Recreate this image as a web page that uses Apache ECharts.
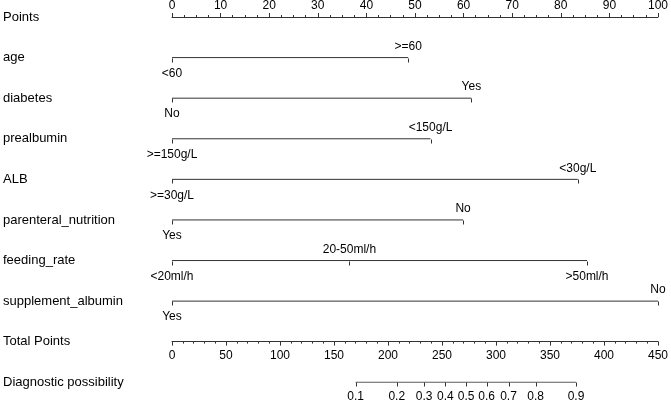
<!DOCTYPE html>
<html>
<head>
<meta charset="utf-8">
<script src="https://cdn.jsdelivr.net/npm/echarts@6/dist/echarts.min.js"></script>
<style>
  html, body { margin: 0; padding: 0; background: #fff; }
  #chart { width: 671px; height: 400px; }
</style>
</head>
<body>
<div id="chart"></div>
<script>
const rows = ['Points', 'age', 'diabetes', 'prealbumin', 'ALB', 'parenteral_nutrition',
  'feeding_rate', 'supplement_albumin', 'Total Points', 'Diagnostic possibility']

// one entry per predictor: level labels, points, label side
const ageLevels = ['<60', '>=60']
const agePoints = [0, 48.6]
const diabetesLevels = ['No', 'Yes']
const diabetesPoints = [0, 61.6]
const prealbuminLevels = ['>=150g/L', '<150g/L']
const prealbuminPoints = [0, 53.2]
const albLevels = ['>=30g/L', '<30g/L']
const albPoints = [0, 83.5]
const parenteralLevels = ['Yes', 'No']
const parenteralPoints = [0, 59.9]
const feedingLevels = ['<20ml/h', '20-50ml/h', '>50ml/h']
const feedingPoints = [0, 36.5, 85.4]
const supplementLevels = ['Yes', 'No']
const supplementPoints = [0, 100]

const probLabels = ['0.1', '0.2', '0.3', '0.4', '0.5', '0.6', '0.7', '0.8', '0.9']
const probTotals = [170, 208.1, 233.5, 253.1, 272.4, 291.4, 311.6, 336.7, 374.1]

const predictors = [
  { row: 'age', levels: ageLevels, pts: agePoints, sides: ['below', 'above'] },
  { row: 'diabetes', levels: diabetesLevels, pts: diabetesPoints, sides: ['below', 'above'] },
  { row: 'prealbumin', levels: prealbuminLevels, pts: prealbuminPoints, sides: ['below', 'above'] },
  { row: 'ALB', levels: albLevels, pts: albPoints, sides: ['below', 'above'] },
  { row: 'parenteral_nutrition', levels: parenteralLevels, pts: parenteralPoints, sides: ['below', 'above'] },
  { row: 'feeding_rate', levels: feedingLevels, pts: feedingPoints, sides: ['below', 'above', 'below'] },
  { row: 'supplement_albumin', levels: supplementLevels, pts: supplementPoints, sides: ['below', 'above'] },
]

const FONT = 'Arial, "Liberation Sans", sans-serif'
const INK = '#000'
const LINE = '#333'

// tick items for the predictor axes
const tickItems = []
predictors.forEach((p) => {
  p.levels.forEach((lv, i) => {
    tickItems.push({ value: [p.pts[i], rows.indexOf(p.row)], label: lv, side: p.sides[i] })
  })
})
const probRow = rows.indexOf('Diagnostic possibility')
const probItems = probLabels.map((lv, i) => ({ value: [probTotals[i], probRow], label: lv, side: 'below' }))

function tickRenderer(items, belowGap) {
  return (params, api) => {
    const it = items[params.dataIndex]
    const c = api.coord([api.value(0), api.value(1)])
    const x = Math.round(c[0]) + 0.5
    const y = Math.round(c[1]) + 0.5
    return {
      type: 'group',
      children: [
        { type: 'line', shape: { x1: x, y1: y, x2: x, y2: y + 4 }, style: { stroke: LINE, lineWidth: 1 } },
        {
          type: 'text',
          x: c[0],
          y: it.side === 'above' ? c[1] - 11 : c[1] + belowGap,
          style: { text: it.label, fill: INK, font: '12px ' + FONT, align: 'center', verticalAlign: 'middle' },
        },
      ],
    }
  }
}

const series = []
predictors.forEach((p) => {
  const r = rows.indexOf(p.row)
  series.push({
    type: 'line',
    xAxisIndex: 0,
    symbol: 'none',
    silent: true,
    data: [[Math.min(...p.pts), r], [Math.max(...p.pts), r]],
    lineStyle: { color: LINE, width: 1 },
  })
})
series.push({
  type: 'custom',
  xAxisIndex: 0,
  silent: true,
  renderItem: tickRenderer(tickItems, 16),
  data: tickItems.map((t) => t.value),
})
series.push({
  type: 'line',
  xAxisIndex: 1,
  symbol: 'none',
  silent: true,
  data: [[probTotals[0], probRow], [probTotals[probTotals.length - 1], probRow]],
  lineStyle: { color: LINE, width: 1 },
})
series.push({
  type: 'custom',
  xAxisIndex: 1,
  silent: true,
  renderItem: tickRenderer(probItems, 14),
  data: probItems.map((t) => t.value),
})

const chart = echarts.init(document.getElementById('chart'))
chart.setOption({
  animation: false,
  textStyle: { fontFamily: FONT },
  grid: { left: 171.7, right: 9.3, top: 16, bottom: 17.7 },
  xAxis: [
    {
      type: 'value',
      position: 'top',
      min: 0,
      max: 100,
      interval: 10,
      axisLine: { show: true, onZero: false, lineStyle: { color: LINE, width: 1 } },
      axisTick: { show: true, length: 4, lineStyle: { color: LINE } },
      minorTick: { show: true, splitNumber: 4, length: 2, lineStyle: { color: LINE } },
      axisLabel: { color: INK, fontSize: 12, margin: 5, fontFamily: FONT },
      splitLine: { show: false },
      minorSplitLine: { show: false },
    },
    {
      type: 'value',
      position: 'bottom',
      offset: -40.7,
      min: 0,
      max: 450,
      interval: 50,
      axisLine: { show: true, onZero: false, lineStyle: { color: LINE, width: 1 } },
      axisTick: { show: true, length: 4, lineStyle: { color: LINE } },
      minorTick: { show: true, splitNumber: 5, length: 2, lineStyle: { color: LINE } },
      axisLabel: { color: INK, fontSize: 12, margin: 8, fontFamily: FONT },
      splitLine: { show: false },
      minorSplitLine: { show: false },
    },
  ],
  yAxis: {
    type: 'category',
    data: rows,
    inverse: true,
    boundaryGap: false,
    axisLine: { show: false },
    axisTick: { show: false },
    splitLine: { show: false },
    axisLabel: { align: 'left', margin: 169, color: INK, fontSize: 13, fontFamily: FONT },
  },
  series: series,
})
</script>
</body>
</html>
